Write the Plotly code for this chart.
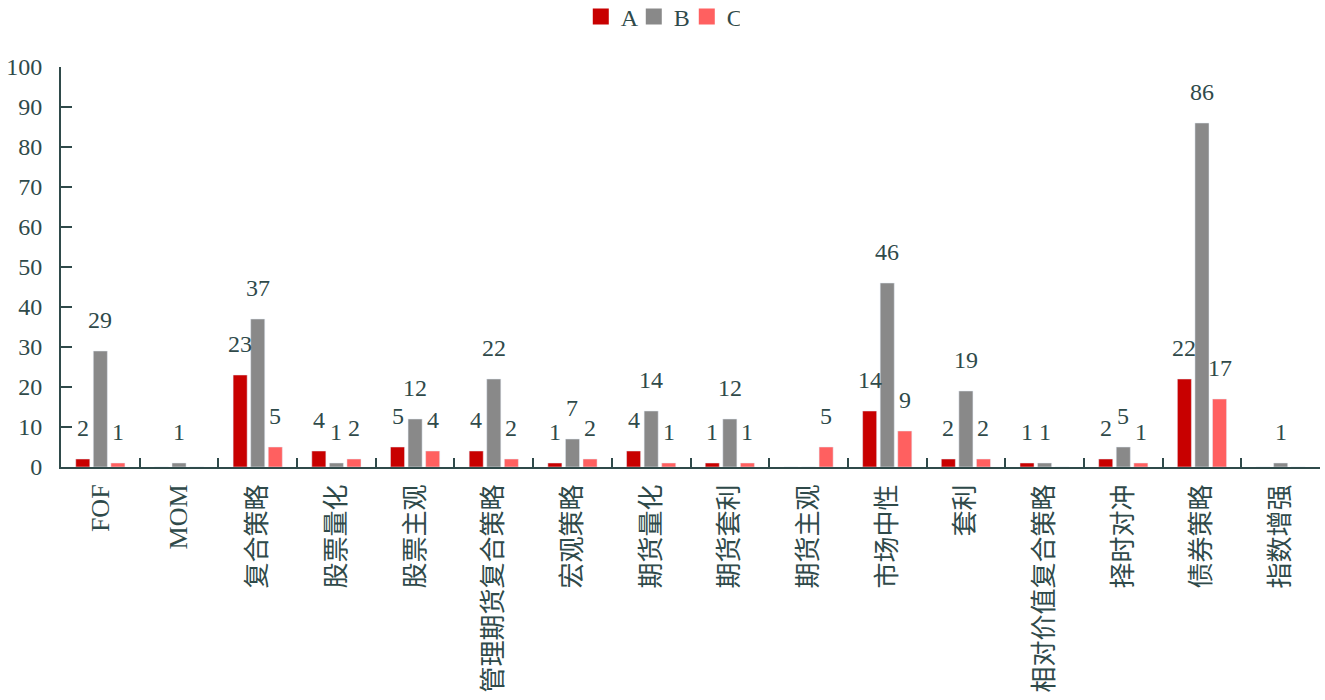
import plotly.graph_objects as go

categories = ["FOF", "MOM", "复合策略", "股票量化", "股票主观", "管理期货复合策略", "宏观策略",
              "期货量化", "期货套利", "期货主观", "市场中性", "套利", "相对价值复合策略",
              "择时对冲", "债券策略", "指数增强"]
series_a = [2, 0, 23, 4, 5, 4, 1, 4, 1, 0, 14, 2, 1, 2, 22, 0]
series_b = [29, 1, 37, 1, 12, 22, 7, 14, 12, 0, 46, 19, 1, 5, 86, 1]
series_c = [1, 0, 5, 2, 4, 2, 2, 1, 1, 5, 9, 2, 0, 1, 17, 0]
series_names = ["A", "B", "C"]
colors = ["#C80000", "#898989", "#FF6060"]
y_ticks = list(range(0, 101, 10))

TXT = "#2F4A4A"
FONT = "'Liberation Serif', 'Noto Sans CJK SC', serif"

W, H = 1325, 700
ML, MR, MT, MB = 61, 5, 67, 233
BARGAP = 0.33

fig = go.Figure()
all_series = [series_a, series_b, series_c]
for name, vals, col in zip(series_names, all_series, colors):
    fig.add_trace(go.Bar(name=name, x=categories, y=vals, marker_color=col,
                         hoverinfo="x+y", showlegend=False, legendgroup=name))
# legend entries with larger square swatches
for name, col in zip(series_names, colors):
    fig.add_trace(go.Scatter(name=name, x=[None], y=[None], mode="markers",
                             marker=dict(symbol="square", size=16, color=col),
                             showlegend=True, legendgroup=name))

# data labels above bars (offset from bar top, like the original chart)
cat_w = (W - ML - MR) / len(categories)
slot = cat_w * (1 - BARGAP) / len(all_series)
annotations = []
for si, vals in enumerate(all_series):
    for cat, v in zip(categories, vals):
        if v:
            annotations.append(dict(
                x=cat, y=v, xref="x", yref="y", text=str(v), showarrow=False,
                xshift=(si - 1) * slot, yshift=31, yanchor="middle", xanchor="center",
                font=dict(size=24, color=TXT, family=FONT),
            ))

fig.update_layout(
    barmode="group", bargap=BARGAP, bargroupgap=0.2,
    width=W, height=H,
    margin=dict(l=ML, r=MR, t=MT, b=MB, autoexpand=False),
    paper_bgcolor="white", plot_bgcolor="white",
    font=dict(family=FONT, color=TXT, size=22),
    showlegend=True,
    legend=dict(orientation="h", x=0.476, xanchor="center", y=1.125, yref="paper", yanchor="middle",
                font=dict(size=24, color=TXT, family=FONT), itemwidth=30, traceorder="normal",
                entrywidth=8),
    annotations=annotations,
)
fig.update_xaxes(
    type="category", tickangle=-90, showline=True, linecolor=TXT, linewidth=2,
    ticks="inside", tickson="boundaries", ticklen=9, tickcolor=TXT, tickwidth=2,
    tickfont=dict(size=26, color=TXT, family=FONT), ticklabelstandoff=5,
    showgrid=False, automargin=False,
)
fig.update_yaxes(
    range=[0, 100], tickvals=y_ticks, showline=True, linecolor=TXT, linewidth=2,
    ticks="inside", ticklen=11, tickcolor=TXT, tickwidth=2, showgrid=False, zeroline=False,
    tickfont=dict(size=24, color=TXT, family=FONT), ticklabelstandoff=12, automargin=False,
)
fig.write_html("out.html")
